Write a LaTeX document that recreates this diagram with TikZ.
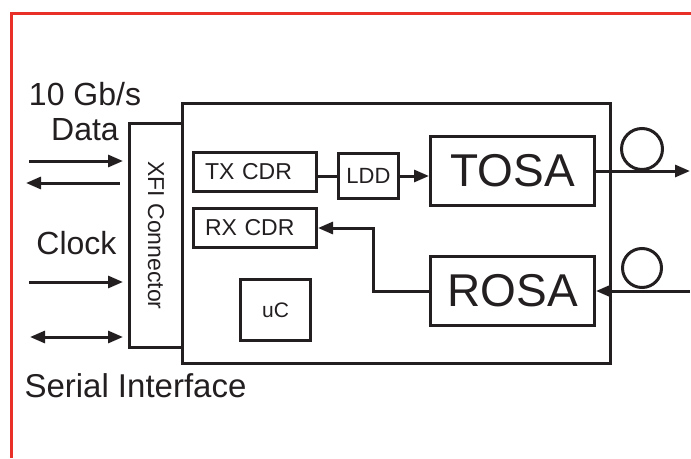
\documentclass[tikz,border=0pt]{standalone}
\usepackage{fontspec}
\setmainfont{Liberation Sans}
\usetikzlibrary{positioning,arrows.meta}
\definecolor{framered}{RGB}{232,48,40}
\definecolor{ink}{RGB}{35,31,32}

\begin{document}
\begin{tikzpicture}[x=1pt, y=-1pt, color=ink, line width=3pt,
    >={Triangle[length=15pt,width=12pt]},
    blk/.style={draw, line width=3pt, inner sep=0pt},
    cdr/.style={blk, font=\fontsize{23}{27}\selectfont, text width=100pt, inner xsep=11.5pt, align=left, minimum height=39pt},
    osa/.style={blk, font=\fontsize{46}{52}\selectfont, minimum width=164pt, minimum height=69pt},
    lbl/.style={font=\fontsize{32}{38}\selectfont, inner sep=0pt},
    loop/.style={draw, circle, line width=3pt, inner sep=0pt}]
  \useasboundingbox (0,0) rectangle (691,458);
  \draw[framered] (691,13) -- (11,13) -- (11,458);

  % connector and module outline
  \node[blk, minimum width=53pt, minimum height=224pt] (xfi) at (156,235.5) {};
  \node[rotate=-90, font=\fontsize{23}{27}\selectfont] (xfitxt) at (xfi.center) {XFI Connector};
  \node[blk, minimum width=428pt, minimum height=260pt] (mod) at (396.5,233.5) {};

  % blocks inside
  \node[cdr] (txcdr) at (255,172) {TX CDR};
  \node[cdr] (rxcdr) at (255,228) {RX CDR};
  \node[blk, minimum width=60pt, minimum height=45pt, font=\fontsize{22}{26}\selectfont] (ldd) at (368.5,176) {LDD};
  \node[osa] (tosa) at (512.5,171) {TOSA};
  \node[osa] (rosa) at (512.5,291) {ROSA};
  \node[blk, minimum width=70pt, minimum height=61pt, font=\fontsize{21}{25}\selectfont] (uc) at (275.5,310) {uC};

  \draw (txcdr.east |- ldd.west) -- (ldd.west);
  \draw[->] (ldd.east) -- (ldd.east -| tosa.west);
  \draw[->] (rosa.west) -- ++(-56,0) |- (rxcdr.east);

  % fibres
  \node[loop, minimum size=41pt] (txloop) at (642,149) {};
  \node[loop, minimum size=39pt] (rxloop) at (642,268) {};
  \coordinate (txout) at (690,171);
  \coordinate (rxin) at (690,291);
  \draw[->] (tosa.east) -- (txout);
  \draw[->] (rxin) -- (rxin -| rosa.east);

  % host side
  \coordinate (datain) at (29,161);
  \coordinate (dataout) at (26,183);
  \coordinate (clkin) at (29,282);
  \coordinate (serio) at (30,337);
  \draw[->, shorten >=5pt] (datain) -- (datain -| xfi.west);
  \draw[<-] (dataout) -- ([xshift=-8pt]dataout -| xfi.west);
  \draw[->, shorten >=5pt] (clkin) -- (clkin -| xfi.west);
  \draw[<->, shorten >=5pt] (serio) -- (serio -| xfi.west);

  \node[lbl, anchor=base] (rate) at (85,105) {10 Gb/s};
  \node[lbl, anchor=base] (data) at (85,140) {Data};
  \node[lbl, anchor=base east] (clk) at (118,254) {Clock};
  \node[lbl, anchor=base west, font=\fontsize{33}{40}\selectfont] (ser) at (23,397) {Serial Interface};
\end{tikzpicture}
\end{document}
